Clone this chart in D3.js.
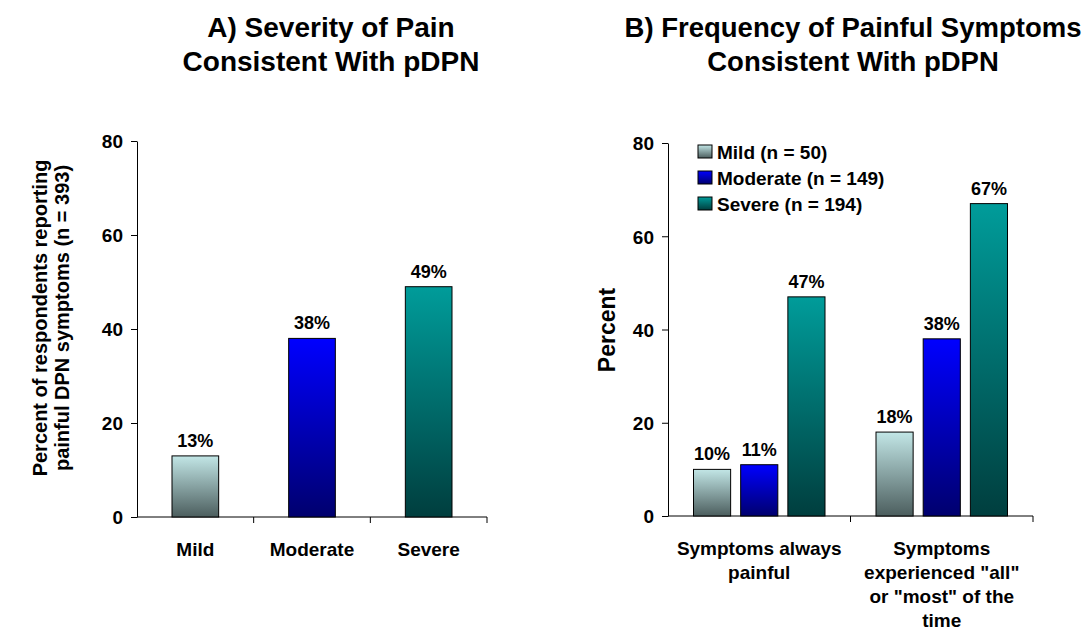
<!DOCTYPE html>
<html>
<head>
<meta charset="utf-8">
<script src="https://cdn.jsdelivr.net/npm/d3@7"></script>
<style>
  body { margin: 0; background: #fff; }
  svg { font-family: "Liberation Sans", Arial, sans-serif; font-weight: bold; }
  .axis path, .axis line { stroke: #000; }
  .axis text { font-size: 19px; font-weight: bold; fill: #000; }
</style>
</head>
<body>
<svg id="chart" width="1084" height="631"></svg>
<script>
// panel A: severity
const severityCats = ["Mild", "Moderate", "Severe"];
const severityVals = [13, 38, 49];
// panel B: frequency, one array per severity group
const freqGroups = ["always", "allmost"];
const freqLabelLines = [["Symptoms always", "painful"], ["Symptoms", "experienced \"all\"", "or \"most\" of the", "time"]];
const mildFreq = [10, 18];
const moderateFreq = [11, 38];
const severeFreq = [47, 67];
const legendLabels = ["Mild (n = 50)", "Moderate (n = 149)", "Severe (n = 194)"];
const yTicks = [0, 20, 40, 60, 80];

const svg = d3.select("#chart");

// gradients, light on top -> dark at bottom
const grads = [
    { id: "g-mild", top: "#c2e6e6", bottom: "#4c5e5e" },
    { id: "g-mod", top: "#0000ff", bottom: "#00006e" },
    { id: "g-sev", top: "#009c9a", bottom: "#003e3e" }
];
const defs = svg.append("defs");
grads.forEach(g => {
    let lg = defs.append("linearGradient").attr("id", g.id)
        .attr("x1", 0).attr("y1", 0).attr("x2", 0).attr("y2", 1);
    lg.append("stop").attr("offset", "0%").attr("stop-color", g.top);
    lg.append("stop").attr("offset", "100%").attr("stop-color", g.bottom);
});
const fillFor = d3.scaleOrdinal().domain(severityCats).range(grads.map(g => "url(#" + g.id + ")"));

// ---------- Panel A ----------
const yA = d3.scaleLinear().domain([0, 80]).range([517, 141]);
const xA = d3.scaleBand().domain(severityCats).range([137, 487]).paddingInner(0.6).paddingOuter(0.3);
const xAcat = d3.scaleBand().domain(severityCats).range([137, 487]);

svg.append("g").attr("class", "axis")
    .attr("transform", "translate(137,0)")
    .call(d3.axisLeft(yA).tickValues(yTicks).tickSize(6).tickPadding(8).tickSizeOuter(0))
    .call(g => g.selectAll("text").attr("dy", "0.36em"));

let xAxisA = svg.append("g").attr("class", "axis").attr("transform", "translate(0,517)");
xAxisA.append("line").attr("x1", xAcat.range()[0]).attr("x2", xAcat.range()[1]).attr("stroke", "#000");
xAxisA.selectAll(".tk").data(severityCats.slice(1).concat(["end"]))
    .join("line")
    .attr("x1", d => d === "end" ? xAcat.range()[1] : xAcat(d))
    .attr("x2", d => d === "end" ? xAcat.range()[1] : xAcat(d))
    .attr("y1", 0).attr("y2", 6).attr("stroke", "#000");
xAxisA.selectAll(".cat").data(severityCats)
    .join("text")
    .attr("x", d => xAcat(d) + xAcat.bandwidth() / 2)
    .attr("y", 39)
    .attr("text-anchor", "middle")
    .text(d => d);

svg.selectAll(".barA").data(severityCats)
    .join("rect")
    .attr("class", "barA")
    .attr("x", d => xA(d))
    .attr("width", xA.bandwidth())
    .attr("y", (d, i) => yA(severityVals[i]))
    .attr("height", (d, i) => yA(0) - yA(severityVals[i]))
    .attr("fill", d => fillFor(d))
    .attr("stroke", "#000").attr("stroke-width", 1);

svg.selectAll(".lblA").data(severityCats)
    .join("text")
    .attr("x", d => xA(d) + xA.bandwidth() / 2)
    .attr("y", (d, i) => yA(severityVals[i]) - 9)
    .attr("text-anchor", "middle")
    .attr("font-size", "18px")
    .text((d, i) => severityVals[i] + "%");

svg.append("text")
    .attr("transform", "translate(50,318) rotate(-90)")
    .attr("text-anchor", "middle")
    .attr("font-size", "20px")
    .selectAll("tspan").data(["Percent of respondents reporting", "painful DPN symptoms (n = 393)"])
    .join("tspan")
    .attr("x", 0)
    .attr("dy", (d, i) => i === 0 ? "-0.15em" : "1.1em")
    .text(d => d);

svg.append("text")
    .attr("text-anchor", "middle").attr("font-size", "28px")
    .selectAll("tspan").data(["A) Severity of Pain", "Consistent With pDPN"])
    .join("tspan").attr("x", 331).attr("y", (d, i) => 37 + i * 34).text(d => d);

// ---------- Panel B ----------
const yB = d3.scaleLinear().domain([0, 80]).range([516, 143]);
const xB = d3.scaleBand().domain(freqGroups).range([668, 1033]);
const xBin = d3.scaleBand().domain(severityCats).range([25.5, xB.bandwidth() - 25.5]).paddingInner(0.213);
const seriesB = [mildFreq, moderateFreq, severeFreq];

svg.append("g").attr("class", "axis")
    .attr("transform", "translate(668,0)")
    .call(d3.axisLeft(yB).tickValues(yTicks).tickSize(6).tickPadding(8).tickSizeOuter(0))
    .call(g => g.selectAll("text").attr("dy", "0.36em"));

let xAxisB = svg.append("g").attr("class", "axis").attr("transform", "translate(0,516)");
xAxisB.append("line").attr("x1", xB.range()[0]).attr("x2", xB.range()[1]).attr("stroke", "#000");
xAxisB.selectAll(".tk").data(freqGroups.slice(1).concat(["end"]))
    .join("line")
    .attr("x1", d => d === "end" ? xB.range()[1] : xB(d))
    .attr("x2", d => d === "end" ? xB.range()[1] : xB(d))
    .attr("y1", 0).attr("y2", 6).attr("stroke", "#000");
freqGroups.forEach((grp, gi) => {
    xAxisB.append("text")
        .attr("text-anchor", "middle")
        .selectAll("tspan").data(freqLabelLines[gi])
        .join("tspan")
        .attr("x", xB(grp) + xB.bandwidth() / 2)
        .attr("y", (d, i) => 39 + i * 24)
        .text(d => d);
});

const groupsB = svg.selectAll(".grpB").data(freqGroups)
    .join("g").attr("class", "grpB")
    .attr("transform", d => "translate(" + xB(d) + ",0)");

severityCats.forEach((cat, si) => {
    groupsB.append("rect")
        .attr("x", xBin(cat))
        .attr("width", xBin.bandwidth())
        .attr("y", (d, gi) => yB(seriesB[si][gi]))
        .attr("height", (d, gi) => yB(0) - yB(seriesB[si][gi]))
        .attr("fill", fillFor(cat))
        .attr("stroke", "#000").attr("stroke-width", 1);
    groupsB.append("text")
        .attr("x", xBin(cat) + xBin.bandwidth() / 2)
        .attr("y", (d, gi) => yB(seriesB[si][gi]) - 9)
        .attr("text-anchor", "middle")
        .attr("font-size", "18px")
        .text((d, gi) => seriesB[si][gi] + "%");
});

svg.append("text")
    .attr("transform", "translate(615,330) rotate(-90)")
    .attr("text-anchor", "middle")
    .attr("font-size", "23px")
    .text("Percent");

svg.append("text")
    .attr("text-anchor", "middle").attr("font-size", "27.5px")
    .selectAll("tspan").data(["B) Frequency of Painful Symptoms", "Consistent With pDPN"])
    .join("tspan").attr("x", 853).attr("y", (d, i) => 37 + i * 34).text(d => d);

// legend
const legend = svg.append("g").attr("transform", "translate(698,145)");
legendLabels.forEach((lbl, i) => {
    let row = legend.append("g").attr("transform", "translate(0," + (i * 26) + ")");
    row.append("rect").attr("width", 14).attr("height", 13)
        .attr("fill", fillFor(severityCats[i])).attr("stroke", "#000");
    row.append("text").attr("x", 19).attr("y", 7).attr("dy", "0.36em")
        .attr("font-size", "19px").text(lbl);
});
</script>
</body>
</html>
